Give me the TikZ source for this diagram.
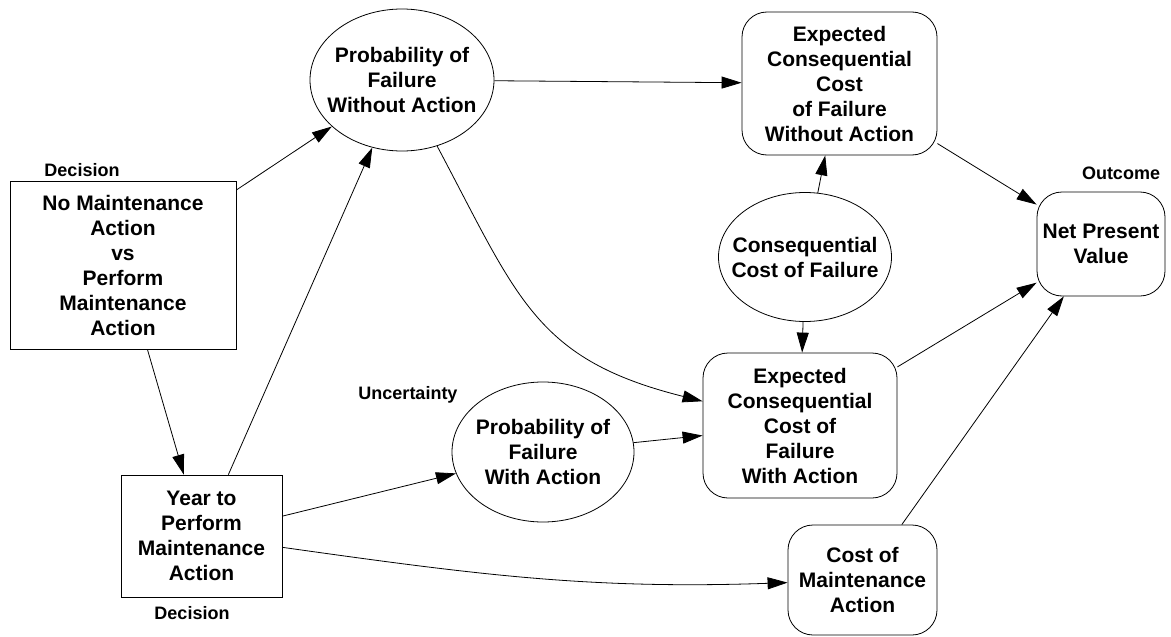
\documentclass[tikz,border=0pt]{standalone}
\usepackage{fontspec}
\setmainfont{Liberation Sans}
\usetikzlibrary{arrows.meta, positioning, shapes.geometric}

\begin{document}
\begin{tikzpicture}[x=1pt, y=1pt,
    every node/.style={font=\fontsize{21}{25}\selectfont\bfseries, align=center},
    choice/.style={draw, rectangle, line width=0.8pt, inner sep=0pt},
    chance/.style={draw, ellipse, line width=0.8pt, inner xsep=-20pt, inner ysep=0pt},
    valuebox/.style={draw, rectangle, rounded corners=25pt, line width=0.8pt, inner sep=0pt},
    tag/.style={font=\fontsize{18}{21}\selectfont\bfseries},
    link/.style={-{Triangle[length=20pt,width=12pt]}, line width=0.8pt}]
        % Khung giữ kích thước trang
        \useasboundingbox (0,0) rectangle (1171,-637);

        % Hai nút quyết định (hình chữ nhật)
        \node[choice, minimum width=226pt, minimum height=168pt] (nomaint) at (123,-265) {No Maintenance\\Action\\vs\\Perform\\Maintenance\\Action};
        \node[choice, minimum width=161pt, minimum height=122pt] (year) at (201.5,-536) {Year to\\Perform\\Maintenance\\Action};

        % Các nút bất định (hình elip)
        \node[chance, minimum width=184pt, minimum height=142pt] (pfwo) at (402,-80) {Probability of\\Failure\\Without Action};
        \node[chance, minimum width=182pt, minimum height=140pt] (pfwa) at (543,-452) {Probability of\\Failure\\With Action};
        \node[chance, minimum width=173pt, minimum height=129pt] (ccf) at (805,-257) {Consequential\\Cost of Failure};

        % Các nút giá trị (bo góc)
        \node[valuebox, minimum width=195pt, minimum height=143pt] (eccwo) at (839.5,-83.5) {Expected\\Consequential\\Cost\\of Failure\\Without Action};
        \node[valuebox, minimum width=194pt, minimum height=145pt] (eccwa) at (800,-425.5) {Expected\\Consequential\\Cost of\\Failure\\With Action};
        \node[valuebox, minimum width=149pt, minimum height=110pt] (costmaint) at (862.5,-580) {Cost of\\Maintenance\\Action};
        \node[valuebox, minimum width=128pt, minimum height=104pt] (npv) at (1101,-244) {Net Present\\Value};

        % Nhãn loại nút
        \node[tag] (dectop) at (82,-170) {Decision};
        \node[tag] (decbot) at (192,-613) {Decision};
        \node[tag] (unc) at (408,-395) {Uncertainty};
        \node[tag] (outc) at (1121,-173) {Outcome};

        % Các mũi tên
        \draw[link] (nomaint) -- (pfwo);
        \draw[link] (nomaint) -- (year);
        \draw[link] (year) -- (pfwo);
        \draw[link] (year) -- (pfwa);
        \draw[link] (year) to[out=-8, in=182] (costmaint);
        \draw[link] (pfwo) -- (eccwo);
        \draw[link] (pfwo) to[out=-62, in=166, looseness=1.2] (eccwa);
        \draw[link] (pfwa) -- (eccwa);
        \draw[link] (ccf) -- (eccwo);
        \draw[link] (ccf) -- (eccwa);
        \draw[link] (eccwo) -- (npv);
        \draw[link] (eccwa) -- (npv);
        \draw[link] (costmaint) -- (npv);
    \end{tikzpicture}
\end{document}
